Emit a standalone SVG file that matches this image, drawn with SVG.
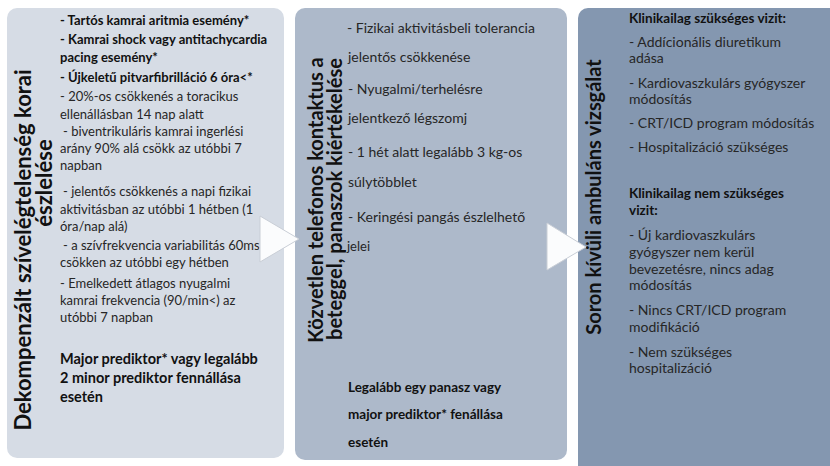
<svg xmlns="http://www.w3.org/2000/svg" width="830" height="466" viewBox="0 0 830 466">
<style>
text{font-family:Lato,"Open Sans","Liberation Sans",sans-serif;fill:#262626}
.t{font-weight:bold;font-size:20px;fill:#111}
.tl{font-weight:bold;font-size:22px;fill:#111}
.b{font-weight:bold;font-size:13px;fill:#111}
.r{font-size:13px}
.mb{font-weight:bold;font-size:14.5px;fill:#111}
.m{font-size:14px}
.mbb{font-weight:bold;font-size:13.5px;fill:#111}
.rr{font-size:14px}
.arr{fill:#fbfcfd;stroke:#c9ced6;stroke-width:1}
</style>
<rect width="830" height="466" fill="#ffffff"/>
<g id="node-left">
<rect x="7" y="8" width="277" height="450" rx="10" fill="#D6DCE5"/>
<text class="tl" transform="translate(31,250) rotate(-90)" text-anchor="middle">Dekompenzált szívelégtelenség korai</text>
<text class="tl" transform="translate(52,183) rotate(-90)" text-anchor="middle">észlelése</text>
<text class="b" x="60" y="25">- Tartós kamrai aritmia esemény*</text>
<text class="b" x="60" y="44">- Kamrai shock vagy antitachycardia</text>
<text class="b" x="60" y="62">pacing esemény*</text>
<text class="b" x="60" y="82">- Újkeletű pitvarfibrilláció 6 óra&lt;*</text>
<text class="r" x="60" y="101">- 20%-os csökkenés a toracikus</text>
<text class="r" x="60" y="119">ellenállásban 14 nap alatt</text>
<text class="r" x="63" y="136">- biventrikuláris kamrai ingerlési</text>
<text class="r" x="60" y="153">arány 90% alá csökk az utóbbi 7</text>
<text class="r" x="60" y="170">napban</text>
<text class="r" x="63" y="196">- jelentős csökkenés a napi fizikai</text>
<text class="r" x="60" y="214">aktivitásban az utóbbi 1 hétben (1</text>
<text class="r" x="60" y="231">óra/nap alá)</text>
<text class="r" x="63" y="250">- a szívfrekvencia variabilitás 60ms&gt;</text>
<text class="r" x="60" y="267">csökken az utóbbi egy hétben</text>
<text class="r" x="60" y="288">- Emelkedett átlagos nyugalmi</text>
<text class="r" x="60" y="305">kamrai frekvencia (90/min&lt;) az</text>
<text class="r" x="60" y="322">utóbbi 7 napban</text>
<text class="mb" x="60" y="364">Major prediktor* vagy legalább</text>
<text class="mb" x="60" y="383">2 minor prediktor fennállása</text>
<text class="mb" x="60" y="402">esetén</text>
</g>
<g id="node-middle">
<rect x="295" y="8" width="272" height="452" rx="10" fill="#ADB9CA"/>
<text class="t" transform="translate(323,200) rotate(-90)" text-anchor="middle">Közvetlen telefonos kontaktus a</text>
<text class="t" transform="translate(342,199) rotate(-90)" text-anchor="middle">beteggel, panaszok kiértékelése</text>
<text class="m" x="347" y="33">-  Fizikai aktivitásbeli tolerancia</text>
<text class="m" x="348" y="62">jelentős csökkenése</text>
<text class="m" x="348" y="94">- Nyugalmi/terhelésre</text>
<text class="m" x="348" y="123">jelentkező légszomj</text>
<text class="m" x="348" y="157">- 1 hét alatt legalább 3 kg-os</text>
<text class="m" x="348" y="187">súlytöbblet</text>
<text class="m" x="348" y="222">- Keringési pangás észlelhető</text>
<text class="r" x="347" y="251">jelei</text>
<text class="mbb" x="348" y="392">Legalább egy panasz vagy</text>
<text class="mbb" x="348" y="419">major prediktor* fenállása</text>
<text class="mbb" x="348" y="447">esetén</text>
</g>
<g id="node-right">
<rect x="578" y="8" width="270" height="470" rx="10" fill="#8497B0"/>
<text class="t" transform="translate(601,197) rotate(-90)" text-anchor="middle">Soron kívüli ambuláns vizsgálat</text>
<text class="mbb" x="629" y="23">Klinikailag szükséges vizit:</text>
<text class="rr" x="629" y="47">- Addícionális diuretikum</text>
<text class="rr" x="629" y="63">adása</text>
<text class="rr" x="629" y="88">- Kardiovaszkulárs gyógyszer</text>
<text class="rr" x="629" y="104">módosítás</text>
<text class="rr" x="629" y="128">- CRT/ICD program módosítás</text>
<text class="rr" x="629" y="152">- Hospitalizáció szükséges</text>
<text class="mbb" x="629" y="198">Klinikailag nem szükséges</text>
<text class="mbb" x="629" y="215">vizit:</text>
<text class="rr" x="629" y="240">- Új kardiovaszkulárs</text>
<text class="rr" x="629" y="257">gyógyszer nem kerül</text>
<text class="rr" x="629" y="274">bevezetésre, nincs adag</text>
<text class="rr" x="629" y="290">módosítás</text>
<text class="rr" x="629" y="315">-  Nincs CRT/ICD program</text>
<text class="rr" x="629" y="332">modifikáció</text>
<text class="rr" x="629" y="357">- Nem szükséges</text>
<text class="rr" x="629" y="373">hospitalizáció</text>
</g>
<g id="connectors">
<polygon class="arr" points="260,216 299,239 260,262"/>
<polygon class="arr" points="547,223 586,247 547,270"/>
</g>
</svg>
